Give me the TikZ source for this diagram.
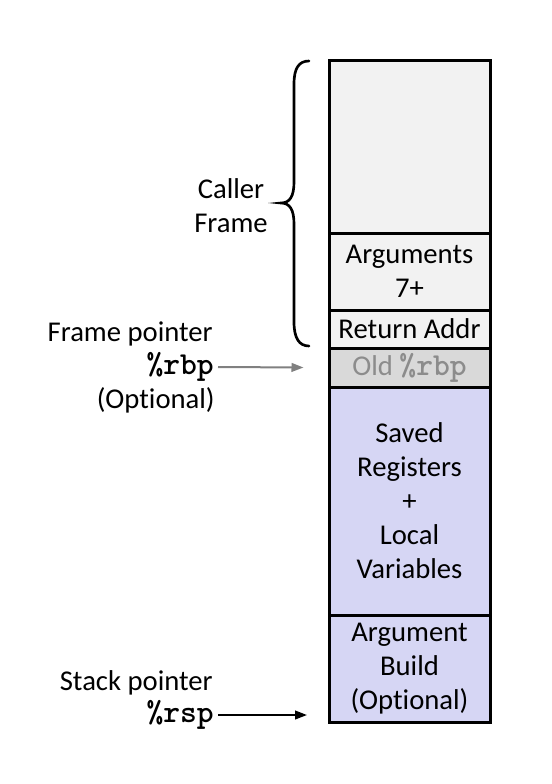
\documentclass[tikz,border=0pt]{standalone}
\usepackage{fontspec}
\setmainfont{Carlito}[Ligatures=NoCommon]
\usetikzlibrary{arrows.meta}
\definecolor{framegray}{HTML}{F2F2F2}
\definecolor{oldgray}{HTML}{D9D9D9}
\definecolor{oldtext}{HTML}{8C8C8C}
\definecolor{lavender}{RGB}{214,214,244}
\definecolor{pointergray}{HTML}{808080}
\newcommand{\regfont}{\fontsize{24}{25.5}\selectfont\ttfamily\bfseries}
\begin{document}
\begin{tikzpicture}[x=0.75pt,y=-0.75pt,
  cell/.style={draw=black, line width=2.25pt, minimum width=120.75pt,
    inner sep=0pt, align=center, font=\fontsize{21.5}{25.5}\selectfont},
  lbl/.style={font=\fontsize{21.5}{25.5}\selectfont, inner sep=0pt, align=center},
  reg/.style={font=\regfont, inner sep=0pt},
  ptr/.style={line width=1.5pt, -{Triangle[length=9pt,width=6.5pt]}}
]
\useasboundingbox (0,0) rectangle (552,784);

% stack frame cells, top to bottom
\node[cell, fill=framegray, minimum height=129pt] (caller) at (409.5,147) {};
\node[cell, fill=framegray, minimum height=57.75pt] (args) at (409.5,271.5) {Arguments\\7+};
\node[cell, fill=framegray, minimum height=28.5pt] (ret) at (409.5,329) {Return Addr};
\node[cell, fill=oldgray, text=oldtext, minimum height=29.25pt] (oldrbp) at (409.5,367.5)
  {Old {\regfont \%rbp}};
\node[cell, fill=lavender, minimum height=171pt] (saved) at (409.5,501)
  {Saved\\Registers\\+\\Local\\Variables};
\node[cell, fill=lavender, minimum height=80.25pt] (argbuild) at (409.5,668.5)
  {Argument\\Build\\(Optional)};

% brace around the caller frame
\draw[line width=2pt, line cap=round]
  (309,61) .. controls (299,61) and (294,68) .. (294,84) -- (294,182)
  .. controls (294,196) and (290,203) .. (281,203)
  .. controls (290,203) and (294,210) .. (294,224) -- (294,322)
  .. controls (294,338) and (299,346) .. (309,346);
\node[lbl] (callerlbl) at (231,206) {Caller\\Frame};

% frame pointer
\node[lbl, anchor=east] (fplbl) at (213,334) {Frame pointer};
\node[reg, anchor=east] (rbp) at (214,367) {\%rbp};
\node[lbl, anchor=east] (optlbl) at (215,400) {(Optional)};
\draw[ptr, draw=pointergray, fill=pointergray] ([xshift=3pt]rbp.east) -- ([xshift=-18pt]oldrbp.west);

% stack pointer
\node[lbl, anchor=east] (splbl) at (213,683) {Stack pointer};
\node[reg, anchor=east] (rsp) at (214,715) {\%rsp};
\coordinate (rsptip) at (307,715);
\draw[ptr] ([xshift=3pt]rsp.east) -- (rsptip);
\end{tikzpicture}
\end{document}
